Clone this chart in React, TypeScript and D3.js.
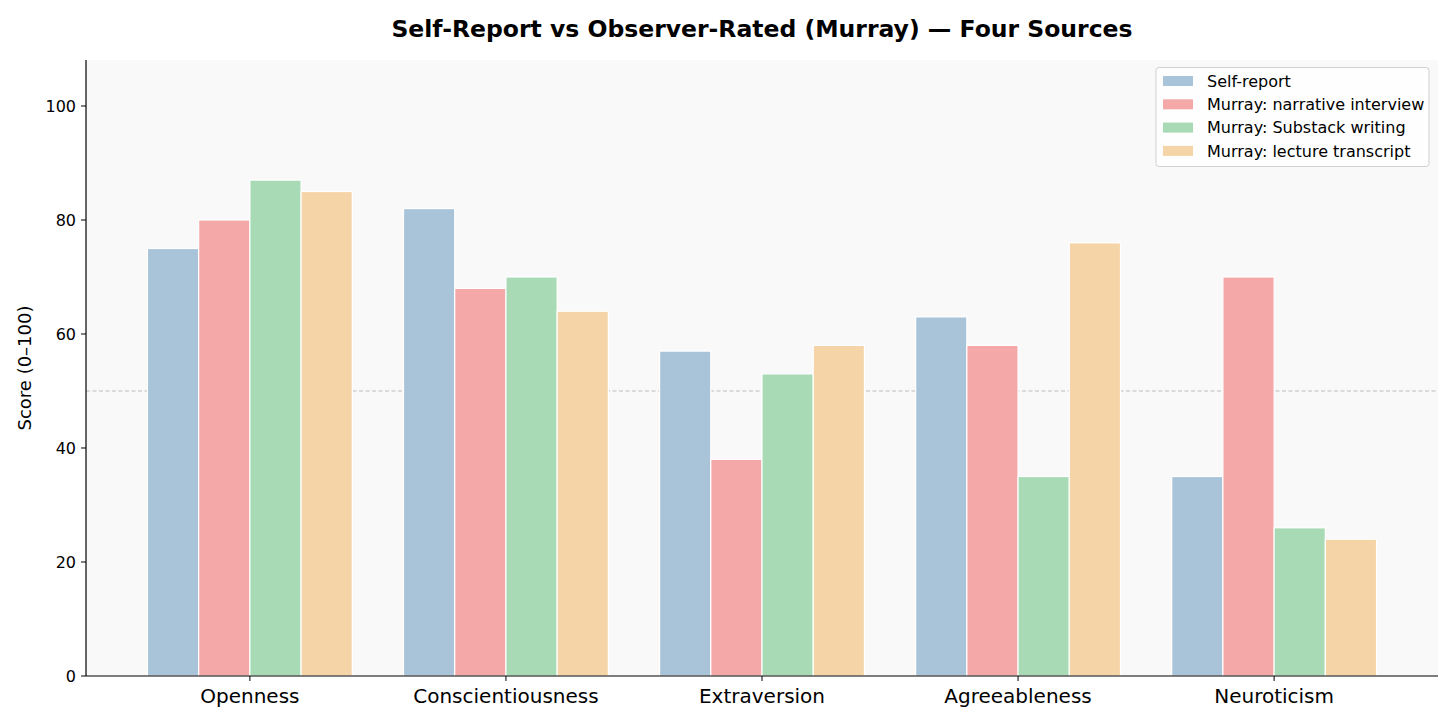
import React from "react";
import * as d3 from "d3";

const categories = ["Openness", "Conscientiousness", "Extraversion", "Agreeableness", "Neuroticism"];
const seriesNames = ["Self-report", "Murray: narrative interview", "Murray: Substack writing", "Murray: lecture transcript"];
const selfReport = [75, 82, 57, 63, 35];
const narrative = [80, 68, 38, 58, 70];
const substack = [87, 70, 53, 35, 26];
const lecture = [85, 64, 58, 76, 24];
const seriesValues = [selfReport, narrative, substack, lecture];
const colors = ["#a9c4d9", "#f4a8a8", "#a8dab5", "#f5d5a8"];
const yTicks = [0, 20, 40, 60, 80, 100];

const W = 1456, H = 728;
const left = 86, right = 1438, top = 60, bottom = 676;
const font = "DejaVu Sans, sans-serif";

export default function App() {
  const x = d3.scaleLinear().domain([-0.64, 4.64]).range([left, right]);
  const y = d3.scaleLinear().domain([0, 108.07]).range([bottom, top]);
  const bw = 0.2;
  return (
    <svg width={W} height={H} style={{ position: "absolute", left: 0, top: 0, background: "#fff" }} fontFamily={font}>
      <rect x={left} y={top} width={right - left} height={bottom - top} fill="#f9f9f9" />
      <line x1={left} x2={right} y1={y(50)} y2={y(50)} stroke="#bdbdbd" strokeWidth={1} strokeDasharray="4,2.5" />
      {seriesValues.map((vals, si) =>
        vals.map((v, ci) => {
          const x0 = x(ci - 0.4 + si * bw);
          const x1 = x(ci - 0.4 + (si + 1) * bw);
          return (
            <rect key={`${si}-${ci}`} x={x0} y={y(v)} width={x1 - x0} height={y(0) - y(v)}
              fill={colors[si]} stroke="#fff" strokeWidth={1.2} />
          );
        })
      )}
      <line x1={left} x2={left} y1={top} y2={bottom} stroke="#000" strokeWidth={1.2} />
      <line x1={left} x2={right} y1={bottom} y2={bottom} stroke="#000" strokeWidth={1.2} />
      {yTicks.map((t) => (
        <g key={t}>
          <line x1={left - 5} x2={left} y1={y(t)} y2={y(t)} stroke="#000" strokeWidth={1} />
          <text x={left - 10} y={y(t)} dy="0.35em" textAnchor="end" fontSize={16} fill="#000">{t}</text>
        </g>
      ))}
      {categories.map((c, i) => (
        <g key={c}>
          <line x1={x(i)} x2={x(i)} y1={bottom} y2={bottom + 5} stroke="#000" strokeWidth={1} />
          <text x={x(i)} y={bottom + 27} textAnchor="middle" fontSize={20} fill="#000">{c}</text>
        </g>
      ))}
      <text transform={`translate(31,${(top + bottom) / 2}) rotate(-90)`} textAnchor="middle" fontSize={18} fill="#000">Score (0–100)</text>
      <text x={(left + right) / 2} y={37} textAnchor="middle" fontSize={23.5} fontWeight="bold" fill="#000">
        Self-Report vs Observer-Rated (Murray) — Four Sources
      </text>
      <g>
        <rect x={1156} y={67.5} width={273} height={99} rx={3} fill="#fff" fillOpacity={0.8} stroke="#d0d0d0" strokeWidth={1} />
        {seriesNames.map((n, i) => (
          <g key={n}>
            <rect x={1163} y={76 + i * 23.3} width={30} height={10} fill={colors[i]} />
            <text x={1207} y={81 + i * 23.3} dy="0.35em" fontSize={16} fill="#000">{n}</text>
          </g>
        ))}
      </g>
    </svg>
  );
}
